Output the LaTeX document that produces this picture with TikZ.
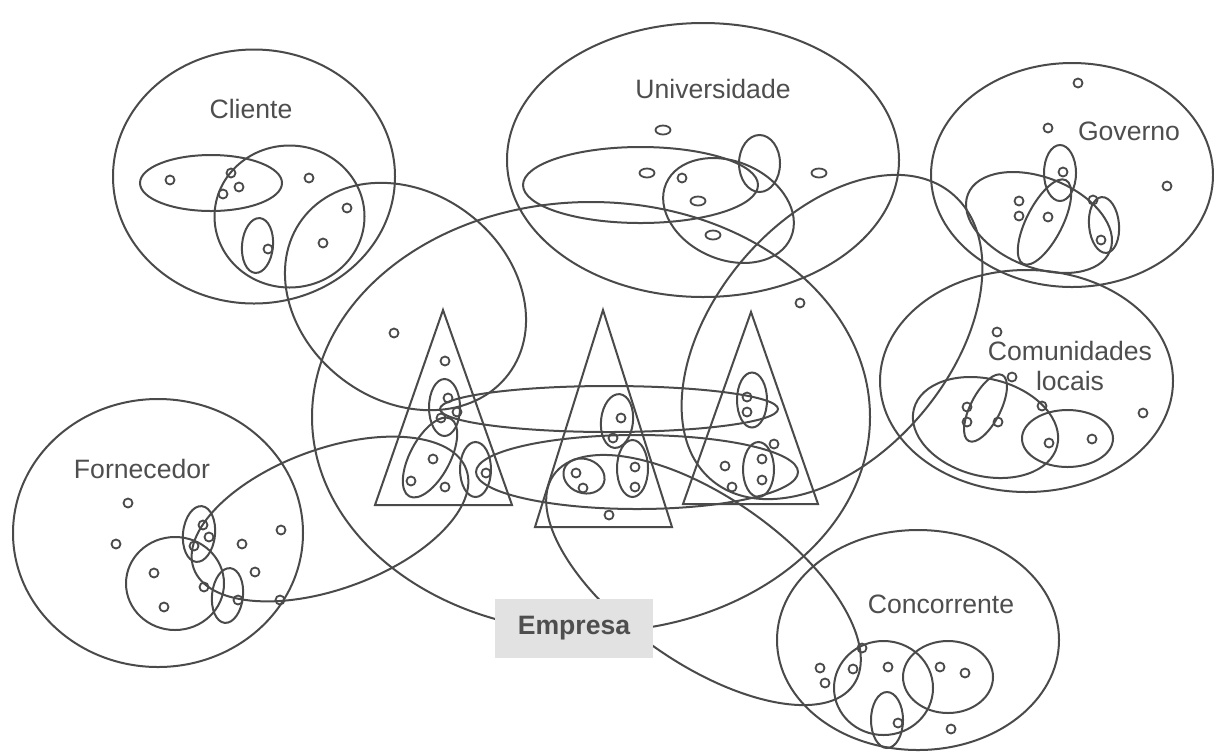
\documentclass[tikz,border=0pt]{standalone}
\usepackage{fontspec}
\setmainfont{Liberation Sans}
\definecolor{linegray}{HTML}{4A4A4A}
\definecolor{textgray}{HTML}{4E4E4E}
\definecolor{boxgray}{HTML}{E2E2E2}
\newcommand\rell[5]{\draw[ring, rotate around={#5:(#1,#2)}] (#1,#2) ellipse[x radius=#3, y radius=#4];}
\newcommand\hell[4]{\draw[ring] (#1,#2) ellipse[x radius=#3, y radius=#4];}
\begin{document}
\begin{tikzpicture}[x=0.5pt,y=-0.5pt,
  ring/.style={draw=linegray, line width=1pt},
  dotst/.style={draw=linegray, line width=0.9pt},
  lbl/.style={text=textgray, font=\fontsize{13.3}{15}\selectfont, anchor=base, inner sep=0pt},
  tri/.style={draw=linegray, line width=1pt, line join=miter}]
\useasboundingbox (0,0) rectangle (1214,751);
\fill[white] (0,0) rectangle (1214,751);
% big ellipses
\hell{254}{176.5}{141}{127}
\hell{703}{160}{196}{137}
\hell{1072}{175}{141}{112}
\hell{1026.5}{381}{146.5}{111}
\hell{158}{533}{145}{134}
\hell{918}{640}{141}{110}
\hell{591}{417}{279}{215}
\rell{405.5}{296.5}{129}{104}{-37}
\rell{832}{337}{187}{118}{50}
\rell{330}{519}{145}{70}{20}
\rell{703.5}{580}{183}{83}{-35}
\hell{609}{409}{169}{23}
\hell{637}{472}{161}{37}
% Cliente inner
\hell{211}{183}{71}{28}
\hell{289.5}{216.5}{75}{71}
\rell{257.5}{245.5}{15.5}{27.5}{-5}
\foreach \p in {(170,180),(231,173),(239,187),(223,194),(309,178),(347,208),(323,243),(268,249)}
  \draw[dotst] \p circle[radius=4.5];
% Universidade inner
\hell{640.5}{185}{117.5}{38}
\rell{728.5}{210.5}{68}{49}{-23.4}
\hell{759.5}{163.5}{20.5}{28.5}
\foreach \p in {(663,130),(647,173),(698,201),(713,235),(819,173)}
  \draw[dotst] \p ellipse[x radius=7.5, y radius=4.5];
\draw[dotst] (682,178) circle[radius=4.5];
% Governo inner
\rell{1039}{222.5}{76.5}{45}{-21.7}
\rell{1044.5}{222}{47}{18}{63}
\hell{1060}{173}{16}{28}
\rell{1104}{225}{15}{28}{5}
\foreach \p in {(1078,83),(1048,128),(1063,172),(1019,201),(1019,216),(1048,217),(1093,200),(1101,240),(1167,186)}
  \draw[dotst] \p circle[radius=4.5];
% Comunidades inner
\rell{985.5}{427.5}{74}{48.5}{-14.6}
\rell{985.5}{408}{37}{15}{63}
\hell{1067.5}{438.5}{45.5}{28.5}
\foreach \p in {(997,332),(1012,377),(967,407),(967,422),(998,422),(1042,406),(1049,443),(1092,439),(1143,413)}
  \draw[dotst] \p circle[radius=4.5];
% Fornecedor inner
\hell{175}{583.5}{49}{46.5}
\rell{199}{534}{16}{28}{-6}
\rell{227.5}{595.5}{15.5}{27.5}{-6}
\foreach \p in {(128,503),(116,544),(203,525),(209,537),(194,546),(242,544),(281,530),(154,573),(255,572),(204,587),(238,600),(280,600),(164,607)}
  \draw[dotst] \p circle[radius=4.5];
% Concorrente inner
\hell{883.5}{688}{49.5}{47}
\hell{948}{677}{45}{36}
\hell{887}{720}{16}{28}
\foreach \p in {(862,648),(820,668),(825,683),(853,669),(888,667),(940,667),(965,673),(898,723),(951,729)}
  \draw[dotst] \p circle[radius=4.5];
% triangles
\draw[tri] (443,310) -- (375,505) -- (512,505) -- cycle;
\draw[tri] (603,310) -- (535,527) -- (672,527) -- cycle;
\draw[tri] (751,312) -- (683,504) -- (818,504) -- cycle;
\hell{444.5}{407.5}{15.5}{28.5}
\rell{430}{457.5}{44}{20}{62}
\hell{475.5}{469.5}{15.5}{27.5}
\rell{617}{421}{16}{27}{-6}
\hell{632.5}{468.5}{15.5}{28.5}
\rell{584}{476}{21}{17}{-20}
\hell{752}{400}{15}{27.5}
\hell{758.5}{469.5}{15.5}{27.5}
\foreach \p in {(394,333),(445,361),(448,398),(457,412),(441,418),(433,459),(411,481),(445,487),(486,473),(621,418),(613,438),(576,473),(583,488),(635,467),(635,487),(609,515),(800,303),(747,397),(747,412),(774,444),(725,466),(762,459),(762,480),(732,487)}
  \draw[dotst] \p circle[radius=4.5];
% labels
\node[lbl] (cliente) at (251,118) {Cliente};
\node[lbl] (univ) at (713,98) {Universidade};
\node[lbl] (gov) at (1129,140) {Governo};
\node[lbl] (comun) at (1070,360) {Comunidades};
\node[lbl] (locais) at (1070,390) {locais};
\node[lbl] (forn) at (142,478) {Fornecedor};
\node[lbl] (conc) at (941,613) {Concorrente};
\node[fill=boxgray, minimum width=79pt, minimum height=29.5pt, inner sep=0pt, text=textgray, font=\fontsize{13.3}{15}\selectfont\bfseries] (empresa) at (574,628.5) {Empresa};
\end{tikzpicture}
\end{document}
